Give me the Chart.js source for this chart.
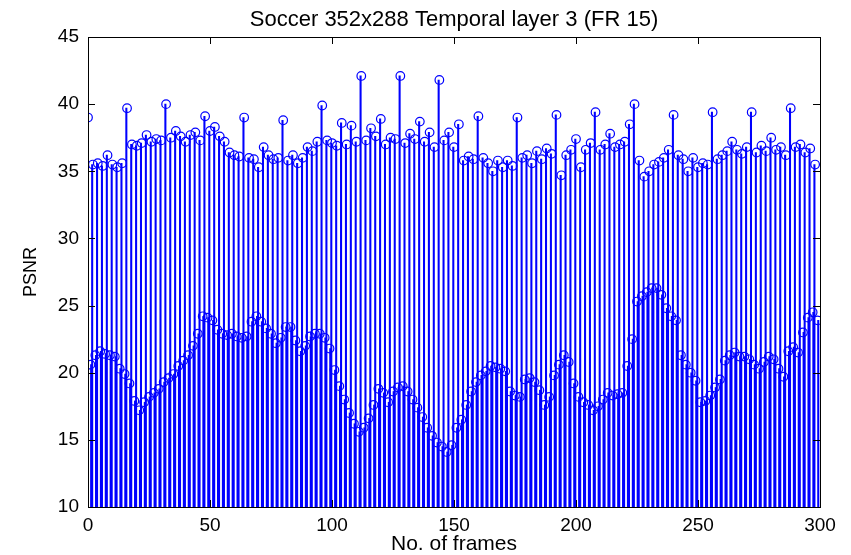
<!DOCTYPE html>
<html>
<head>
<meta charset="utf-8">
<script src="https://cdn.jsdelivr.net/npm/chart.js@4/dist/chart.umd.min.js"></script>
<style>
  html, body { margin: 0; padding: 0; background: #fff; }
  #wrap { width: 851px; height: 555px; }
</style>
</head>
<body>
<div id="wrap"><canvas id="c" width="851" height="555"></canvas></div>
<script>
// PSNR per frame, two interleaved frame groups (even / odd frame numbers)
const highPsnr = [
  39.0, 35.5, 35.6, 35.4, 36.2, 35.5, 35.3, 35.6, 39.7, 37.0,
  36.9, 37.1, 37.7, 37.2, 37.4, 37.3, 40.0, 37.5, 38.0, 37.6,
  37.2, 37.7, 37.9, 37.3, 39.1, 38.0, 38.3, 37.6, 37.2, 36.4,
  36.2, 36.1, 39.0, 36.0, 35.9, 35.3, 36.8, 36.2, 35.9, 36.0,
  38.8, 35.8, 36.2, 35.6, 36.0, 36.8, 36.5, 37.2, 39.9, 37.3,
  37.1, 36.9, 38.6, 37.0, 38.4, 37.2, 42.1, 37.3, 38.2, 37.6,
  38.9, 37.0, 37.5, 37.4, 42.1, 37.1, 37.8, 37.4, 38.7, 37.2,
  37.9, 36.8, 41.8, 37.3, 37.9, 36.8, 38.5, 35.8, 36.1, 35.9,
  39.1, 36.0, 35.6, 35.0, 35.8, 35.3, 35.8, 35.4, 39.0, 36.0,
  36.2, 35.6, 36.5, 35.9, 36.7, 36.3, 39.2, 34.7, 36.2, 36.6,
  37.4, 35.3, 36.6, 37.1, 39.4, 36.6, 37.0, 37.8, 36.8, 37.0,
  37.2, 38.5, 40.0, 35.8, 34.6, 35.0, 35.5, 35.7, 36.0, 36.6,
  39.2, 36.2, 35.9, 35.0, 36.0, 35.3, 35.6, 35.5, 39.4, 35.9,
  36.2, 36.5, 37.2, 36.6, 36.3, 36.8, 39.4, 36.4, 36.9, 36.5,
  37.5, 36.6, 36.8, 36.2, 39.7, 36.8, 37.0, 36.4, 36.7, 35.5
];
const lowPsnr = [
  20.6, 21.3, 21.6, 21.4, 21.3, 21.2, 20.3, 19.9, 19.2, 17.9,
  17.2, 17.8, 18.2, 18.5, 18.8, 19.3, 19.6, 19.9, 20.5, 20.9,
  21.3, 22.0, 22.9, 24.2, 24.1, 23.9, 23.2, 22.9, 22.8, 22.9,
  22.7, 22.6, 22.7, 23.8, 24.2, 23.8, 23.3, 22.9, 22.2, 22.6,
  23.4, 23.4, 22.4, 21.6, 22.0, 22.7, 22.9, 22.9, 22.6, 21.8,
  20.2, 19.0, 18.0, 17.0, 16.2, 15.6, 15.9, 16.6, 17.6, 18.8,
  18.5, 17.8, 18.6, 18.9, 19.0, 18.6, 18.0, 17.4, 16.7, 15.9,
  15.3, 14.8, 14.5, 14.1, 14.6, 15.9, 16.5, 17.6, 18.6, 19.3,
  19.8, 20.1, 20.5, 20.4, 20.3, 20.1, 18.6, 18.3, 18.2, 19.5,
  19.6, 19.3, 18.7, 17.6, 18.2, 19.8, 20.6, 21.3, 20.8, 19.2,
  18.2, 17.8, 17.6, 17.2, 17.5, 18.0, 18.5, 18.3, 18.4, 18.5,
  20.5, 22.5, 25.3, 25.7, 26.0, 26.3, 26.3, 25.8, 24.8, 24.2,
  23.9, 21.3, 20.6, 20.0, 19.4, 17.8, 17.9, 18.3, 18.9, 19.5,
  20.9, 21.3, 21.5, 21.2, 21.2, 21.0, 20.6, 20.3, 20.8, 21.2,
  21.0, 20.3, 19.7, 21.6, 21.9, 21.5, 23.0, 24.1, 24.5, 23.9
];
// frame numbers: even frames for the first group, odd frames for the second
const highFrames = highPsnr.map((_, i) => i * 2);
const lowFrames = lowPsnr.map((_, i) => i * 2 + 1);

const xTicks = [0, 50, 100, 150, 200, 250, 300];
const yTicks = [10, 15, 20, 25, 30, 35, 40, 45];

const titleText = 'Soccer 352x288 Temporal layer 3 (FR 15)';
const xLabel = 'No. of frames';
const yLabel = 'PSNR';

const BLUE = '#0000ff';
const FONT = 'Arial, "Liberation Sans", Helvetica, sans-serif';

const toPts = (xs, ys) => xs.map((x, i) => ({ x: x, y: ys[i] }));

// MATLAB-style box with inward tick marks on all four sides,
// and the title centred over the axes
const boxPlugin = {
  id: 'box',
  afterDraw(chart) {
    const { ctx, chartArea: a, scales } = chart;
    const len = 7;
    ctx.save();
    ctx.strokeStyle = '#000';
    ctx.lineWidth = 1;
    ctx.beginPath();
    xTicks.forEach(v => {
      const px = Math.round(scales.x.getPixelForValue(v)) + 0.5;
      ctx.moveTo(px, a.bottom); ctx.lineTo(px, a.bottom - len);
      ctx.moveTo(px, a.top); ctx.lineTo(px, a.top + len);
    });
    yTicks.forEach(v => {
      const py = Math.round(scales.y.getPixelForValue(v)) + 0.5;
      ctx.moveTo(a.left, py); ctx.lineTo(a.left + len, py);
      ctx.moveTo(a.right, py); ctx.lineTo(a.right - len, py);
    });
    ctx.stroke();
    ctx.strokeRect(Math.round(a.left) + 0.5, Math.round(a.top) + 0.5,
                   Math.round(a.right - a.left), Math.round(a.bottom - a.top));

    ctx.fillStyle = '#000';
    ctx.font = '22px ' + FONT;
    ctx.textAlign = 'center';
    ctx.textBaseline = 'alphabetic';
    ctx.fillText(titleText, (a.left + a.right) / 2, 26);
    ctx.restore();
  }
};

const stemBar = (xs, ys) => ({
  type: 'bar',
  data: toPts(xs, ys),
  backgroundColor: BLUE,
  borderWidth: 0,
  barThickness: 1.4,
  order: 2
});
const stemHead = (xs, ys) => ({
  type: 'scatter',
  data: toPts(xs, ys),
  showLine: false,
  pointStyle: 'circle',
  pointRadius: 4.3,
  borderWidth: 1.2,
  borderColor: BLUE,
  backgroundColor: 'rgba(0,0,0,0)',
  order: 1
});

new Chart(document.getElementById('c'), {
  data: {
    datasets: [
      stemBar(highFrames, highPsnr),
      stemBar(lowFrames, lowPsnr),
      stemHead(highFrames, highPsnr),
      stemHead(lowFrames, lowPsnr)
    ]
  },
  options: {
    responsive: false,
    animation: false,
    devicePixelRatio: 1,
    layout: { padding: { left: 0, right: 31, top: 37, bottom: 0 } },
    plugins: {
      legend: { display: false },
      tooltip: { enabled: false },
      title: { display: false }
    },
    scales: {
      x: {
        type: 'linear',
        min: 0, max: 300,
        offset: false,
        grid: { display: false, drawTicks: false },
        border: { display: false },
        afterBuildTicks: s => { s.ticks = xTicks.map(v => ({ value: v })); },
        afterFit: s => { s.height = 48; },
        ticks: { color: '#000', padding: 7, maxRotation: 0, font: { family: FONT, size: 19 } },
        title: { display: true, text: xLabel, color: '#000', padding: { top: 0, bottom: 0 },
                 font: { family: FONT, size: 21, lineHeight: 1.0 } }
      },
      y: {
        type: 'linear',
        min: 10, max: 45,
        grid: { display: false, drawTicks: false },
        border: { display: false },
        afterBuildTicks: s => { s.ticks = yTicks.map(v => ({ value: v })); },
        afterFit: s => { s.width = 88; },
        ticks: { color: '#000', padding: 9, font: { family: FONT, size: 19 } },
        title: { display: true, text: yLabel, color: '#000', padding: { top: 20, bottom: 0 },
                 font: { family: FONT, size: 18 } }
      }
    }
  },
  plugins: [boxPlugin]
});
</script>
</body>
</html>
